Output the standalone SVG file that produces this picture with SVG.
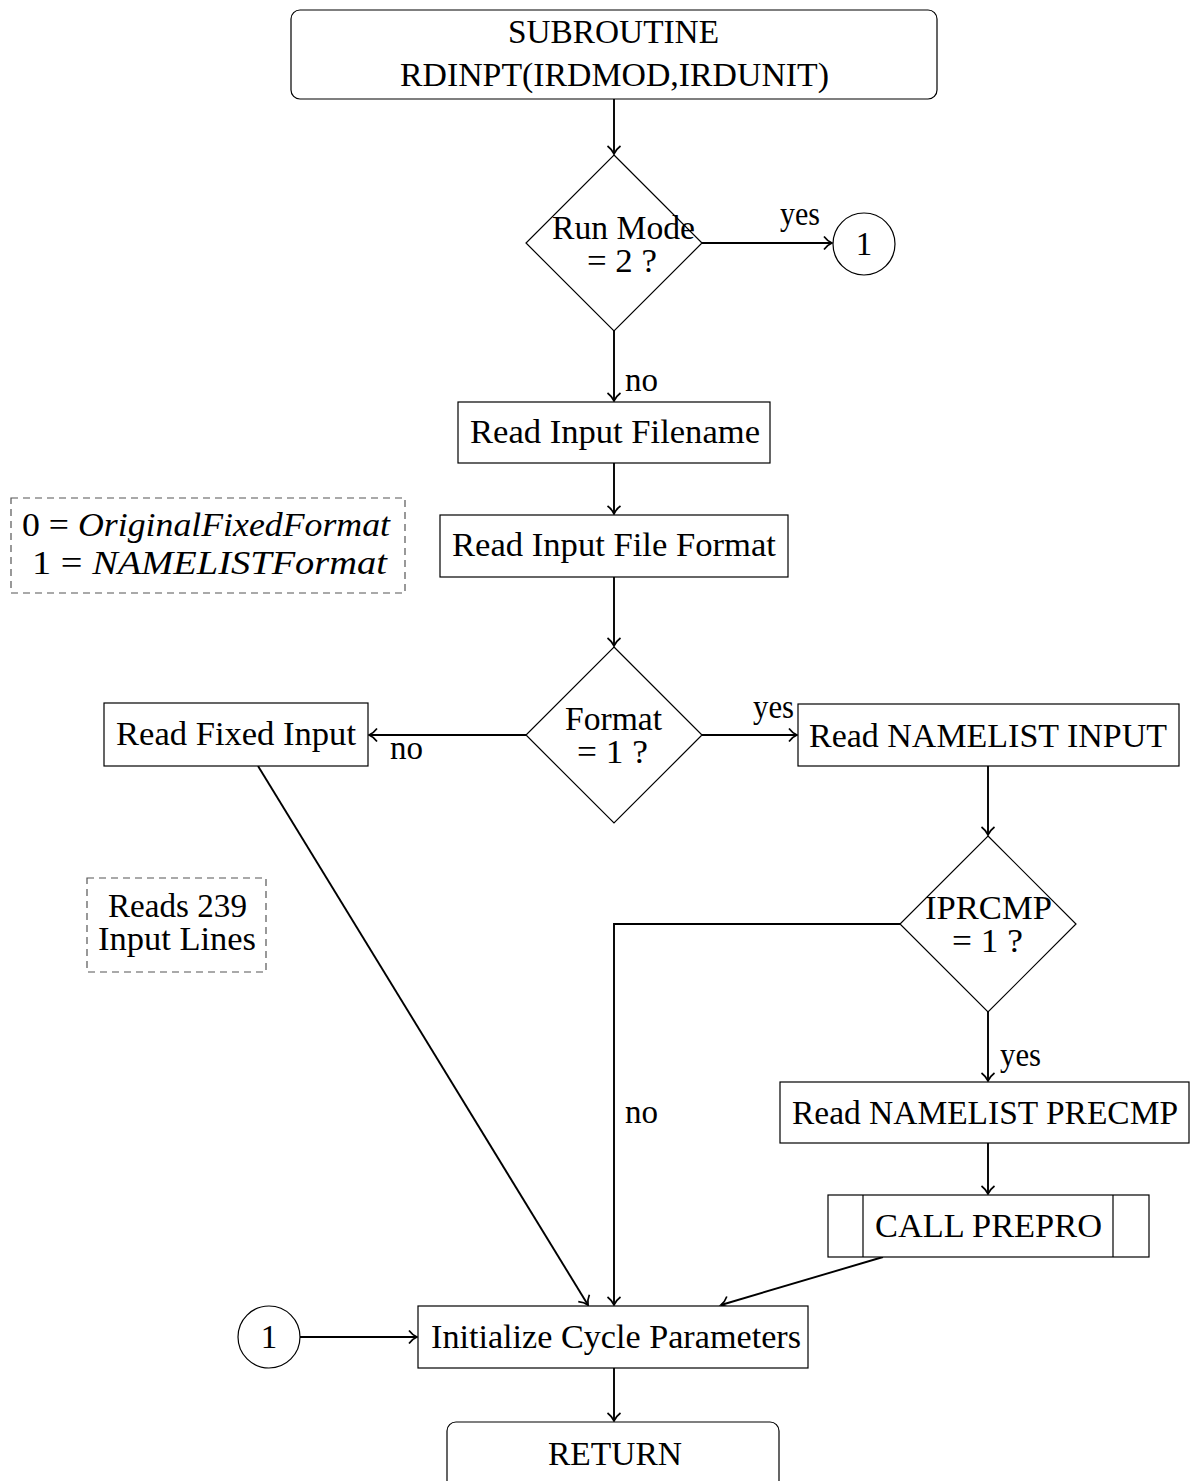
<svg xmlns="http://www.w3.org/2000/svg" width="1190" height="1481" viewBox="0 0 1190 1481">
<style>
.n{fill:#fff;stroke:#000;stroke-width:1.2}
.d{fill:none;stroke:#555;stroke-width:1.2;stroke-dasharray:7 5}
.t{font-family:"Liberation Serif","Times New Roman",serif;font-size:33px;fill:#000;text-anchor:middle}
.s{text-anchor:start}
.e{text-anchor:end}
.i{font-style:italic}
.c{fill:none;stroke:#000;stroke-width:1.9;marker-end:url(#ah)}
</style>
<defs>
<marker id="ah" markerUnits="userSpaceOnUse" markerWidth="18" markerHeight="18" viewBox="-11 -9 13 18" refX="0" refY="0" orient="auto">
<path d="M -8,-6.5 C -5,-2.5 -1.8,-0.7 0,0 C -1.8,0.7 -5,2.5 -8,6.5" fill="none" stroke="#000" stroke-width="1.7"/>
</marker>
</defs>
<g id="connectors">
<path class="c" d="M614,99 L614,154"/>
<path class="c" d="M702,243 L832,243"/>
<path class="c" d="M614,331 L614,401"/>
<path class="c" d="M614,463 L614,514"/>
<path class="c" d="M614,577 L614,646"/>
<path class="c" d="M526,735 L369,735"/>
<path class="c" d="M702,735 L797,735"/>
<path class="c" d="M988,766 L988,835"/>
<path class="c" d="M900,924 L614,924 L614,1305"/>
<path class="c" d="M988,1012 L988,1081"/>
<path class="c" d="M988,1143 L988,1194"/>
<path class="c" d="M258,766 L588,1305"/>
<path class="c" d="M883,1257 L721,1305"/>
<path class="c" d="M300,1337 L417,1337"/>
<path class="c" d="M614,1368 L614,1421"/>
<text class="t" x="800" y="225" textLength="40" lengthAdjust="spacingAndGlyphs">yes</text>
<text class="t s" x="625" y="391" textLength="33" lengthAdjust="spacingAndGlyphs">no</text>
<text class="t" x="406.5" y="759" textLength="33" lengthAdjust="spacingAndGlyphs">no</text>
<text class="t e" x="794" y="718" textLength="41" lengthAdjust="spacingAndGlyphs">yes</text>
<text class="t s" x="625" y="1123" textLength="33" lengthAdjust="spacingAndGlyphs">no</text>
<text class="t s" x="1000" y="1066" textLength="41" lengthAdjust="spacingAndGlyphs">yes</text>
</g>
<g id="start">
<rect class="n" x="291" y="10" width="646" height="89" rx="9"/>
<text class="t" x="613.5" y="43" textLength="211" lengthAdjust="spacingAndGlyphs">SUBROUTINE</text>
<text class="t" x="614.5" y="86" textLength="429" lengthAdjust="spacingAndGlyphs">RDINPT(IRDMOD,IRDUNIT)</text>
</g>
<g id="dec-runmode">
<polygon class="n" points="614,155 702,243 614,331 526,243"/>
<text class="t" x="623.5" y="238.5" textLength="143" lengthAdjust="spacingAndGlyphs">Run Mode</text>
<text class="t" x="622" y="271.5" textLength="70" lengthAdjust="spacingAndGlyphs">= 2 ?</text>
</g>
<g id="conn1-top">
<circle class="n" cx="864" cy="244" r="31"/>
<text class="t" x="864" y="255">1</text>
</g>
<g id="read-filename">
<rect class="n" x="458" y="402" width="312" height="61"/>
<text class="t" x="615" y="443" textLength="290" lengthAdjust="spacingAndGlyphs">Read Input Filename</text>
</g>
<g id="read-format">
<rect class="n" x="440" y="515" width="348" height="62"/>
<text class="t" x="614" y="556" textLength="324" lengthAdjust="spacingAndGlyphs">Read Input File Format</text>
</g>
<g id="note-format">
<rect class="d" x="11" y="498" width="394" height="95"/>
<text class="t" x="206" y="536" textLength="368" lengthAdjust="spacingAndGlyphs">0 = <tspan class="i">OriginalFixedFormat</tspan></text>
<text class="t" x="209.5" y="574" textLength="355" lengthAdjust="spacingAndGlyphs">1 = <tspan class="i">NAMELISTFormat</tspan></text>
</g>
<g id="dec-format">
<polygon class="n" points="614,647 702,735 614,823 526,735"/>
<text class="t" x="613.5" y="729.5" textLength="97" lengthAdjust="spacingAndGlyphs">Format</text>
<text class="t" x="612.5" y="762.5" textLength="71" lengthAdjust="spacingAndGlyphs">= 1 ?</text>
</g>
<g id="read-fixed">
<rect class="n" x="104" y="703" width="264" height="63"/>
<text class="t" x="236" y="745" textLength="240" lengthAdjust="spacingAndGlyphs">Read Fixed Input</text>
</g>
<g id="read-namelist">
<rect class="n" x="798" y="704" width="381" height="62"/>
<text class="t" x="988" y="747" textLength="358" lengthAdjust="spacingAndGlyphs">Read NAMELIST INPUT</text>
</g>
<g id="dec-iprcmp">
<polygon class="n" points="988,836 1076,924 988,1012 900,924"/>
<text class="t" x="988.5" y="918.5" textLength="127" lengthAdjust="spacingAndGlyphs">IPRCMP</text>
<text class="t" x="987.5" y="951.5" textLength="71" lengthAdjust="spacingAndGlyphs">= 1 ?</text>
</g>
<g id="note-lines">
<rect class="d" x="87" y="878" width="179" height="94"/>
<text class="t" x="177.5" y="917" textLength="139" lengthAdjust="spacingAndGlyphs">Reads 239</text>
<text class="t" x="177" y="950" textLength="158" lengthAdjust="spacingAndGlyphs">Input Lines</text>
</g>
<g id="read-precmp">
<rect class="n" x="780" y="1082" width="409" height="61"/>
<text class="t" x="985" y="1124" textLength="386" lengthAdjust="spacingAndGlyphs">Read NAMELIST PRECMP</text>
</g>
<g id="call-prepro">
<rect class="n" x="828" y="1195" width="321" height="62"/>
<line class="n" x1="863" y1="1195" x2="863" y2="1257"/>
<line class="n" x1="1113" y1="1195" x2="1113" y2="1257"/>
<text class="t" x="988.5" y="1237" textLength="227" lengthAdjust="spacingAndGlyphs">CALL PREPRO</text>
</g>
<g id="conn1-bottom">
<circle class="n" cx="269" cy="1337" r="31"/>
<text class="t" x="269" y="1348">1</text>
</g>
<g id="init-cycle">
<rect class="n" x="418" y="1306" width="390" height="62"/>
<text class="t" x="616" y="1348" textLength="370" lengthAdjust="spacingAndGlyphs">Initialize Cycle Parameters</text>
</g>
<g id="return">
<rect class="n" x="447" y="1422" width="332" height="70" rx="9"/>
<text class="t" x="615" y="1465" textLength="134" lengthAdjust="spacingAndGlyphs">RETURN</text>
</g>
</svg>
